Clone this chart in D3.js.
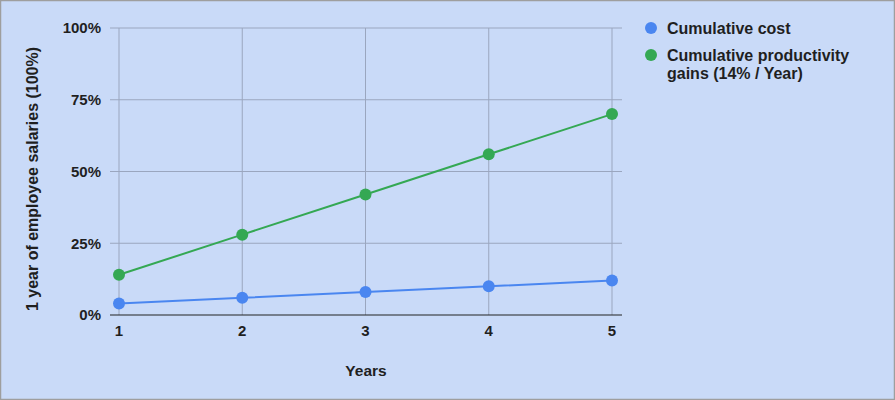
<!DOCTYPE html>
<html><head><meta charset="utf-8">
<script src="https://cdn.jsdelivr.net/npm/d3@7"></script>
<style>
body{margin:0;background:#fff;}
svg{display:block;font-family:"Liberation Sans",Arial,sans-serif;}
</style></head><body>
<svg id="c" width="895" height="400"></svg>
<script>
const years = [1, 2, 3, 4, 5];
const cumulativeCost = [4, 6, 8, 10, 12];
const cumulativeProductivity = [14, 28, 42, 56, 70];
const yTicks = [0, 25, 50, 75, 100];
const seriesNames = ["Cumulative cost", "Cumulative productivity gains (14% / Year)"];
const colors = ["#4a86f0", "#34a853"];

const svg = d3.select("#c");
svg.append("rect").attr("x",0.5).attr("y",0.5).attr("width",894).attr("height",399)
  .attr("fill","#c9daf8").attr("stroke","#9e9e9e").attr("stroke-width",1.5);

const x = d3.scaleLinear().domain([1,5]).range([119,612]);
const y = d3.scaleLinear().domain([0,100]).range([315,28]);

svg.append("g").selectAll("line").data(yTicks.filter(d=>d>0)).join("line")
  .attr("x1",110).attr("x2",622).attr("y1",d=>y(d)).attr("y2",d=>y(d))
  .attr("stroke","#9aa6bf").attr("stroke-width",1);
svg.append("g").selectAll("line").data(years).join("line")
  .attr("x1",d=>x(d)).attr("x2",d=>x(d)).attr("y1",y(100)).attr("y2",y(0))
  .attr("stroke","#9aa6bf").attr("stroke-width",1);
svg.append("line").attr("x1",110).attr("x2",622).attr("y1",y(0)).attr("y2",y(0))
  .attr("stroke","#222").attr("stroke-width",1.2);

svg.append("g").selectAll("text").data(yTicks).join("text")
  .attr("x",101).attr("y",d=>y(d)).attr("dy","0.36em").attr("text-anchor","end")
  .attr("font-size",15).attr("font-weight","bold").attr("fill","#1f1f1f")
  .text(d=>d+"%");
svg.append("g").selectAll("text").data(years).join("text")
  .attr("x",d=>x(d)).attr("y",336).attr("text-anchor","middle")
  .attr("font-size",15).attr("font-weight","bold").attr("fill","#1f1f1f")
  .text(d=>d);

svg.append("text").attr("x",366).attr("y",376).attr("text-anchor","middle")
  .attr("font-size",15.5).attr("font-weight","bold").attr("fill","#1f1f1f").text("Years");
svg.append("text").attr("transform","translate(38,179) rotate(-90)").attr("text-anchor","middle")
  .attr("font-size",16).attr("font-weight","bold").attr("fill","#1f1f1f")
  .text("1 year of employee salaries (100%)");

const line = d3.line().x((d,i)=>x(years[i])).y(d=>y(d));
[cumulativeCost, cumulativeProductivity].forEach((s,k)=>{
  svg.append("path").datum(s).attr("d",line).attr("fill","none")
    .attr("stroke",colors[k]).attr("stroke-width",2);
  svg.append("g").selectAll("circle").data(s).join("circle")
    .attr("cx",(d,i)=>x(years[i])).attr("cy",d=>y(d)).attr("r",6)
    .attr("fill",colors[k]);
});

const leg = svg.append("g");
leg.append("circle").attr("cx",651).attr("cy",28).attr("r",6).attr("fill",colors[0]);
leg.append("text").attr("x",667).attr("y",28).attr("dy","0.36em")
  .attr("font-size",16).attr("font-weight","bold").attr("fill","#1f1f1f").text(seriesNames[0]);
leg.append("circle").attr("cx",651).attr("cy",55).attr("r",6).attr("fill",colors[1]);
const t2 = leg.append("text").attr("font-size",16).attr("font-weight","bold").attr("fill","#1f1f1f");
t2.append("tspan").attr("x",667).attr("y",55).attr("dy","0.36em").text("Cumulative productivity");
t2.append("tspan").attr("x",667).attr("y",73).attr("dy","0.36em").text("gains (14% / Year)");
</script>
</body></html>
